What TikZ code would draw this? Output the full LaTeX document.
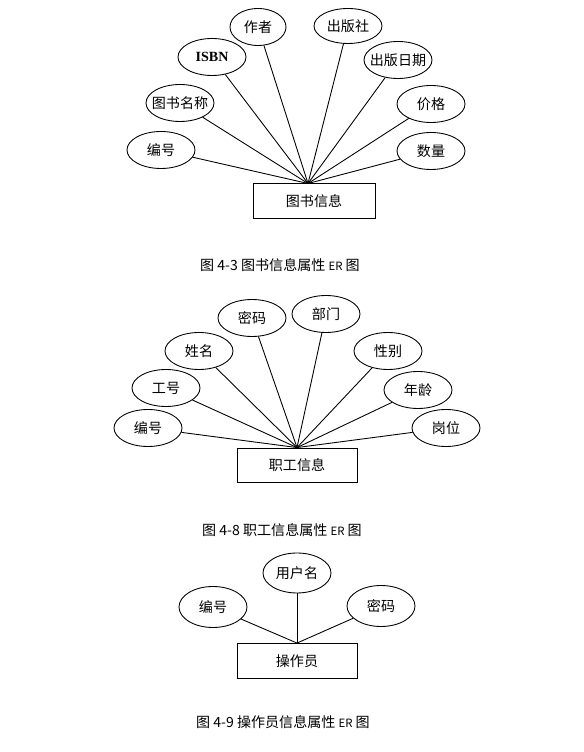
\documentclass[tikz,border=0pt]{standalone}
\usepackage{fontspec}
\setmainfont{Noto Sans CJK SC}
\newfontfamily\latinserif{Liberation Serif}
\usetikzlibrary{shapes.geometric}
\begin{document}
\begin{tikzpicture}[line width=.5pt,
  attr/.style={draw, ellipse, fill=white, inner xsep=-3pt, inner ysep=0pt, minimum width=1.36cm, minimum height=.74cm, font=\fontsize{8pt}{10pt}\selectfont},
  entity/.style={draw, rectangle, minimum width=2.4cm, minimum height=.7cm, font=\fontsize{8pt}{10pt}\selectfont},
  caption/.style={font=\fontsize{8pt}{10pt}\selectfont}]
\useasboundingbox (0, 0) rectangle (11.66, 15.04);

\node at (6.28, 11.02) [entity, minimum width=2.44cm] (book) {图书信息};
\coordinate (bookj) at (6.16, 11.37);
\node at (5.16, 14.5) [attr, minimum width=1.12cm] (zz) {作者};
\node at (6.96, 14.52) [attr, minimum height=.7cm] (cbs) {出版社};
\node at (4.24, 13.9) [attr] (isbn) {\latinserif\bfseries ISBN};
\node at (7.96, 13.84) [attr] (cbrq) {出版日期};
\node at (3.6, 12.98) [attr] (tsmc) {图书名称};
\node at (8.62, 12.96) [attr] (jg) {价格};
\node at (3.22, 12.04) [attr] (bh) {编号};
\node at (8.62, 12.02) [attr] (sl) {数量};
\foreach \n in {zz, cbs, isbn, cbrq, tsmc, jg, bh, sl}
  \draw (\n) -- (bookj);
\node at (5.6, 9.74) [caption] (cap1) {图 4-3 图书信息属性 {\fontsize{6.5pt}{8pt}\selectfont ER} 图};

\node at (5.94, 5.74) [entity, minimum height=.68cm] (staff) {职工信息};
\node at (5.04, 8.68) [attr] (mm) {密码};
\node at (6.52, 8.76) [attr] (bm) {部门};
\node at (3.98, 8.02) [attr] (xm) {姓名};
\node at (7.76, 8.02) [attr] (xb) {性别};
\node at (3.32, 7.28) [attr] (gh) {工号};
\node at (8.92, 6.48) [attr] (gw) {岗位};
\node at (8.36, 7.24) [attr] (nl) {年龄};
\node at (2.96, 6.48) [attr] (bh2) {编号};
\foreach \n in {mm, bm, xm, xb, gh, nl, gw, bh2}
  \draw (\n) -- (staff.north);
\node at (5.64, 4.44) [caption] (cap2) {图 4-8 职工信息属性 {\fontsize{6.5pt}{8pt}\selectfont ER} 图};

\node at (5.94, 1.82) [entity] (opr) {操作员};
\node at (5.94, 3.58) [attr, minimum height=.8cm] (yhm) {用户名};
\node at (4.26, 2.9) [attr, minimum height=.82cm] (bh3) {编号};
\node at (7.62, 2.92) [attr, minimum height=.82cm] (mm3) {密码};
\foreach \n in {yhm, bh3, mm3}
  \draw (\n) -- (opr.north);
\node at (5.66, .6) [caption] (cap3) {图 4-9 操作员信息属性 {\fontsize{6.5pt}{8pt}\selectfont ER} 图};
\end{tikzpicture}
\end{document}
